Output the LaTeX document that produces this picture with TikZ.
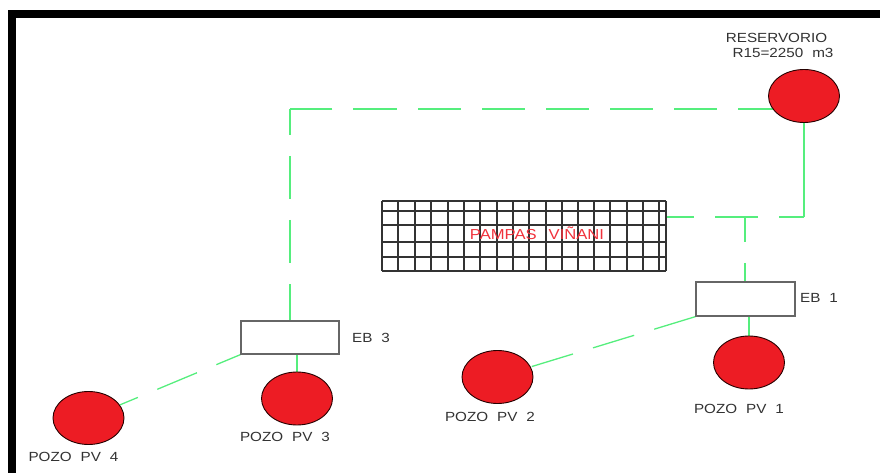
\documentclass[tikz,border=0pt]{standalone}
\usepackage{fontspec}
\setmainfont{Liberation Sans}
\newfontfamily\cadfont[FakeStretch=1.15]{Liberation Sans}
\usetikzlibrary{shapes.geometric,backgrounds}
\definecolor{pipegreen}{RGB}{85,238,125}
\definecolor{wellred}{RGB}{237,28,36}
\definecolor{txtgray}{RGB}{50,50,50}
\definecolor{labelred}{RGB}{240,50,60}
\newcommand{\wsp}{\hspace{9pt}}
\begin{document}
\begin{tikzpicture}[x=1bp,y=-1bp,
  well/.style={ellipse, draw=black!85!red, line width=0.9bp, fill=wellred,
    minimum width=71bp, minimum height=53bp, inner sep=0pt},
  station/.style={rectangle, draw=black!60, line width=1.3bp, fill=white,
    minimum width=99bp, minimum height=34bp, inner sep=0pt},
  pipe/.style={draw=pipegreen, line width=1.3bp},
  pipedash/.style={pipe, dash pattern=on 43bp off 21bp},
  lbl/.style={font=\cadfont\fontsize{13.3}{15}\selectfont, text=txtgray, inner sep=0pt},
  gridline/.style={draw=black!80, line width=1.2bp}]
\useasboundingbox (0,0) rectangle (880,473);
% frame
\fill[black] (8,10) rectangle (880,18);
\fill[black] (8,10) rectangle (16,473);

% grid area
\node[minimum width=284bp, minimum height=70bp, inner sep=0pt] (grid) at (524,236) {};
\foreach \xx in {382,398,415,431,448,464,480,497,513,529,546,562,578,594,610,627,643,659,666}
  \draw[gridline] (\xx,201) -- (\xx,271);
\foreach \yy in {201,211,225,242,257,271} \draw[gridline] (382,\yy) -- (666,\yy);
\node[font=\cadfont\fontsize{14.5}{16}\selectfont, text=labelred, inner sep=0pt] (pampas) at (537,233) {PAMPAS\hspace{12pt}VIÑANI};

% wells and stations
\node[well] (res) at (804,96) {};
\node[well] (pv1) at (749,362.5) {};
\node[well] (pv2) at (497.5,377) {};
\node[well] (pv3) at (297,398.5) {};
\node[well] (pv4) at (88.5,418) {};
\node[station] (eb1) at (745.5,299) {};
\node[station, minimum width=98bp, minimum height=33bp] (eb3) at (290,337.5) {};

% labels
\node[lbl] (tres1) at (776.5,38) {RESERVORIO};
\node[lbl] (tres2) at (783,53) {R15=2250\wsp m3};
\node[lbl] (teb1) at (819,298) {EB\wsp 1};
\node[lbl] (teb3) at (371,338) {EB\wsp 3};
\node[lbl] (tpv1) at (739,409) {POZO\wsp PV\wsp 1};
\node[lbl] (tpv2) at (490,417) {POZO\wsp PV\wsp 2};
\node[lbl] (tpv3) at (285,437) {POZO\wsp PV\wsp 3};
\node[lbl] (tpv4) at (73.5,457) {POZO\wsp PV\wsp 4};

% connectors
\coordinate (ja) at (290,109);
\coordinate (jb) at (804,217);
\coordinate (jc) at (745,217);
\begin{pgfonlayer}{background}
\draw[pipedash, dash phase=40.5bp] (ja -| res) -- (ja);
\draw[pipedash, dash phase=17bp] (ja) -- (eb3.north);
\draw[pipe] (res) -- (jb);
\draw[pipedash, dash phase=18bp] (jb) -- (grid.east |- jb);
\draw[pipedash, dash phase=18bp] (jc) -- (eb1.north -| jc);
\draw[pipe] (eb1.south -| pv1) -- (pv1);
\draw[pipe] (eb3.south -| pv3) -- (pv3);
\draw[pipedash, dash phase=17bp] (eb3.south west) -- (pv4);
\draw[pipedash, dash phase=0bp] (eb1.south west) -- (pv2);
\end{pgfonlayer}
\end{tikzpicture}
\end{document}
